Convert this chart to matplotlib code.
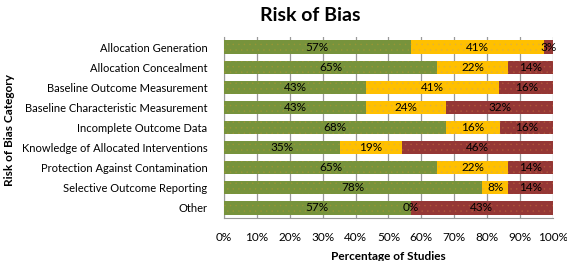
import matplotlib
matplotlib.use("Agg")
import matplotlib.pyplot as plt
import numpy as np

plt.rcParams['font.family'] = ['Lato', 'DejaVu Sans']
plt.rcParams['hatch.linewidth'] = 0.3

categories = ["Allocation Generation", "Allocation Concealment", "Baseline Outcome Measurement",
              "Baseline Characteristic Measurement", "Incomplete Outcome Data",
              "Knowledge of Allocated Interventions", "Protection Against Contamination",
              "Selective Outcome Reporting", "Other"]
low = [56.76, 64.86, 43.24, 43.24, 67.57, 35.14, 64.86, 78.38, 56.76]
unclear = [40.54, 21.62, 40.54, 24.32, 16.22, 18.92, 21.62, 8.11, 0.0]
high = [2.70, 13.51, 16.22, 32.43, 16.22, 45.95, 13.51, 13.51, 43.24]

colors = ["#77933C", "#FFC000", "#953735"]
dots = ["#9A9636", "#E0B040", "#B0583A"]

fig = plt.figure(figsize=(5.67, 2.61), dpi=100)
ax = fig.add_axes([0.395, 0.165, 0.58, 0.693])

y = np.arange(len(categories))
left = np.zeros(len(categories))
for vals, c, d in zip((low, unclear, high), colors, dots):
    vals = np.array(vals)
    ax.barh(y, vals, left=left, height=0.66, color=c, edgecolor=d, linewidth=0,
            hatch="...", zorder=3)
    for yi, l, v in zip(y, left, vals):
        ax.text(l + v / 2, yi, f"{v:.0f}%", ha="center", va="center",
                fontsize=8.5, color="black", zorder=4)
    left = left + vals

ax.set_xlim(0, 100)
ax.set_ylim(len(categories) - 0.5, -0.5)
ax.set_yticks(y)
ax.set_yticklabels(categories, fontsize=8)
ax.set_xticks(np.arange(0, 101, 10))
ax.set_xticklabels([f"{t}%" for t in range(0, 101, 10)], fontsize=8.5)
ax.tick_params(axis="y", length=0, pad=12)
ax.tick_params(axis="x", length=0, pad=10)
ax.xaxis.grid(True, color="#999999", linewidth=0.9, zorder=0)
for s in ("top", "right"):
    ax.spines[s].set_visible(False)
for s in ("left", "bottom"):
    ax.spines[s].set_color("#999999")

ax.set_xlabel("Percentage of Studies", fontsize=8.5, fontweight="bold", labelpad=6)
fig.text(0.016, 0.5, "Risk of Bias Category", rotation=90, ha="center", va="center",
         fontsize=8.5, fontweight="bold")
fig.text(0.547, 0.94, "Risk of Bias", ha="center", va="center", fontsize=14, fontweight="bold")

fig.savefig("out.png", dpi=100)
